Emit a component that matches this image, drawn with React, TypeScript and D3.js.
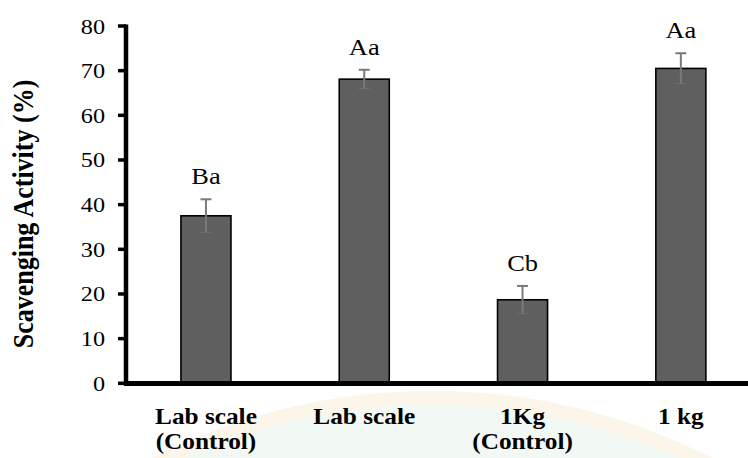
import React from "react";
import * as d3 from "d3";

const categories = ["Lab scale|(Control)", "Lab scale", "1Kg|(Control)", "1 kg"];
const values = [37.5, 68.1, 18.7, 70.5];
const errors = [3.7, 2.1, 3.1, 3.4];
const letters = ["Ba", "Aa", "Cb", "Aa"];
const yTicks = [0, 10, 20, 30, 40, 50, 60, 70, 80];

const W = 748;
const H = 458;
const SX = 1.1; // horizontal stretch of the original raster
const FONT = "'Liberation Serif', 'Times New Roman', serif";

function T({ x, y, size, bold, anchor, children }: any) {
  return (
    <text
      transform={`translate(${x},${y}) scale(${SX},1)`}
      fontFamily={FONT}
      fontSize={size}
      fontWeight={bold ? "bold" : "normal"}
      textAnchor={anchor || "middle"}
      fill="#000"
    >
      {children}
    </text>
  );
}

export default function App() {
  const x = d3
    .scaleBand<string>()
    .domain(categories)
    .range([126.8, 126.8 + 4 * 158.3])
    .paddingInner(0.684)
    .paddingOuter(0.342);
  const y = d3.scaleLinear().domain([0, 80]).range([383.3, 26]);
  const axisX = 126;

  return (
    <svg
      width={W}
      height={H}
      style={{ position: "absolute", left: 0, top: 0, background: "#fff" }}
    >
      {/* faint watermark */}
      <circle cx={432} cy={1010} r={612} fill="#eaf4ee" stroke="#fbf0dc" strokeWidth={14} opacity={0.6} />

      {/* y ticks and labels */}
      {yTicks.map((t) => (
        <g key={t}>
          <line x1={118} x2={axisX} y1={y(t)} y2={y(t)} stroke="#000" strokeWidth={3.5} />
          <T x={105} y={y(t) + 7.5} size={22} anchor="end">
            {t}
          </T>
        </g>
      ))}

      {/* bars */}
      {categories.map((c, i) => {
        const bx = x(c)!;
        const bw = x.bandwidth();
        const cx = bx + bw / 2;
        const top = y(values[i] + errors[i]);
        const bot = y(values[i] - errors[i]);
        return (
          <g key={c}>
            <rect
              x={bx}
              y={y(values[i])}
              width={bw}
              height={y(0) - y(values[i])}
              fill="#5f5f5f"
              stroke="#000"
              strokeWidth={1.6}
            />
            <line x1={cx} x2={cx} y1={top} y2={bot} stroke="#7a7a7a" strokeWidth={2} />
            <line x1={cx - 5.5} x2={cx + 5.5} y1={top} y2={top} stroke="#7a7a7a" strokeWidth={2} />
            <line x1={cx - 5.5} x2={cx + 5.5} y1={bot} y2={bot} stroke="#7a7a7a" strokeWidth={1} opacity={0.6} />
            <T x={cx} y={top - 15} size={24}>
              {letters[i]}
            </T>
            {c.split("|").map((line, j) => (
              <T key={j} x={cx} y={424 + j * 25} size={23} bold>
                {line}
              </T>
            ))}
          </g>
        );
      })}

      {/* axes */}
      <line x1={axisX} x2={axisX} y1={24.5} y2={386} stroke="#000" strokeWidth={4.5} />
      <line x1={axisX - 2} x2={W} y1={383.5} y2={383.5} stroke="#000" strokeWidth={5} />

      {/* y title */}
      <text
        transform={`translate(33,214) rotate(-90) scale(1,${SX})`}
        fontFamily={FONT}
        fontSize={26}
        fontWeight="bold"
        textAnchor="middle"
      >
        Scavenging Activity (%)
      </text>
    </svg>
  );
}
